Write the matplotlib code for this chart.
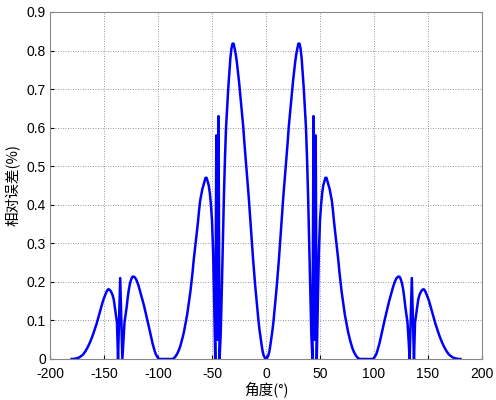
import numpy as np
import matplotlib
matplotlib.use('Agg')
import matplotlib.pyplot as plt

plt.rcParams['font.family'] = ['Liberation Sans', 'Noto Sans CJK SC', 'DejaVu Sans']

# relative error (%) at 0..180 deg, 1 deg steps; the curve is symmetric about 0
angle_half = list(range(0, 181))
err_half = [
    0.000, 0.003, 0.008, 0.018, 0.035, 0.055, 0.075, 0.100, 0.130, 0.160,   # 0-9
    0.190, 0.225, 0.260, 0.300, 0.340, 0.380, 0.420, 0.455, 0.490, 0.525,   # 10-19
    0.560, 0.600, 0.630, 0.660, 0.690, 0.720, 0.745, 0.770, 0.790, 0.805,   # 20-29
    0.818, 0.818, 0.805, 0.780, 0.740, 0.700, 0.650, 0.600, 0.520, 0.420,   # 30-39
    0.300, 0.170, 0.060, 0.000, 0.630, 0.050, 0.580, 0.000, 0.150, 0.280,   # 40-49
    0.360, 0.400, 0.430, 0.450, 0.460, 0.470, 0.470, 0.460, 0.450, 0.440,   # 50-59
    0.425, 0.410, 0.385, 0.355, 0.330, 0.305, 0.280, 0.255, 0.225, 0.200,   # 60-69
    0.175, 0.155, 0.135, 0.115, 0.100, 0.085, 0.070, 0.058, 0.047, 0.037,   # 70-79
    0.028, 0.021, 0.015, 0.010, 0.006, 0.003, 0.001, 0.000, 0.000, 0.000,   # 80-89
    0.000, 0.000, 0.000, 0.000, 0.000, 0.000, 0.000, 0.000, 0.000, 0.000,   # 90-99
    0.003, 0.007, 0.012, 0.020, 0.030, 0.040, 0.052, 0.065, 0.078, 0.090,   # 100-109
    0.103, 0.115, 0.127, 0.139, 0.150, 0.160, 0.170, 0.180, 0.190, 0.198,   # 110-119
    0.205, 0.210, 0.213, 0.214, 0.212, 0.205, 0.195, 0.180, 0.160, 0.135,   # 120-129
    0.115, 0.095, 0.050, 0.000, 0.100, 0.210, 0.100, 0.000, 0.095, 0.115,   # 130-139
    0.135, 0.155, 0.165, 0.172, 0.177, 0.180, 0.181, 0.178, 0.172, 0.165,   # 140-149
    0.158, 0.150, 0.140, 0.130, 0.120, 0.110, 0.100, 0.090, 0.082, 0.073,   # 150-159
    0.065, 0.057, 0.050, 0.043, 0.037, 0.031, 0.026, 0.021, 0.017, 0.013,   # 160-169
    0.010, 0.008, 0.006, 0.004, 0.003, 0.002, 0.001, 0.001, 0.000, 0.000,   # 170-179
    0.000,                                                                  # 180
]
xticks = [-200, -150, -100, -50, 0, 50, 100, 150, 200]
yticks = [0, 0.1, 0.2, 0.3, 0.4, 0.5, 0.6, 0.7, 0.8, 0.9]

angle = np.concatenate([-np.array(angle_half[:0:-1]), angle_half])
err = np.concatenate([np.array(err_half[:0:-1]), err_half])

fig = plt.figure(figsize=(4.96, 4.0), dpi=100)
ax = fig.add_axes([0.1008, 0.1025, 0.871, 0.8675])
ax.plot(angle, err, color='#0000ff', lw=1.8)
ax.set_xlim(-200, 200); ax.set_ylim(0, 0.9)
ax.set_xticks(xticks); ax.set_yticks(yticks)
ax.set_xticklabels([str(t) for t in xticks]); ax.set_yticklabels(['0'] + [f'{t:.1f}' for t in yticks[1:]])
ax.grid(True, ls=(0, (1, 2)), color='#777777', lw=0.6)
ax.tick_params(direction='in', length=3, labelsize=10, colors='black', pad=3)
ax.tick_params(axis='x', pad=6)
for s in ax.spines.values(): s.set_color('#888888'); s.set_linewidth(0.8)
ax.set_xlabel('角度(°)', fontsize=10.5, labelpad=0, family=['Noto Sans CJK SC', 'DejaVu Sans'])
ax.set_ylabel('相对误差(%)', fontsize=10.5, labelpad=4, family=['Noto Sans CJK SC', 'DejaVu Sans'])
fig.savefig('out.png', dpi=100)
